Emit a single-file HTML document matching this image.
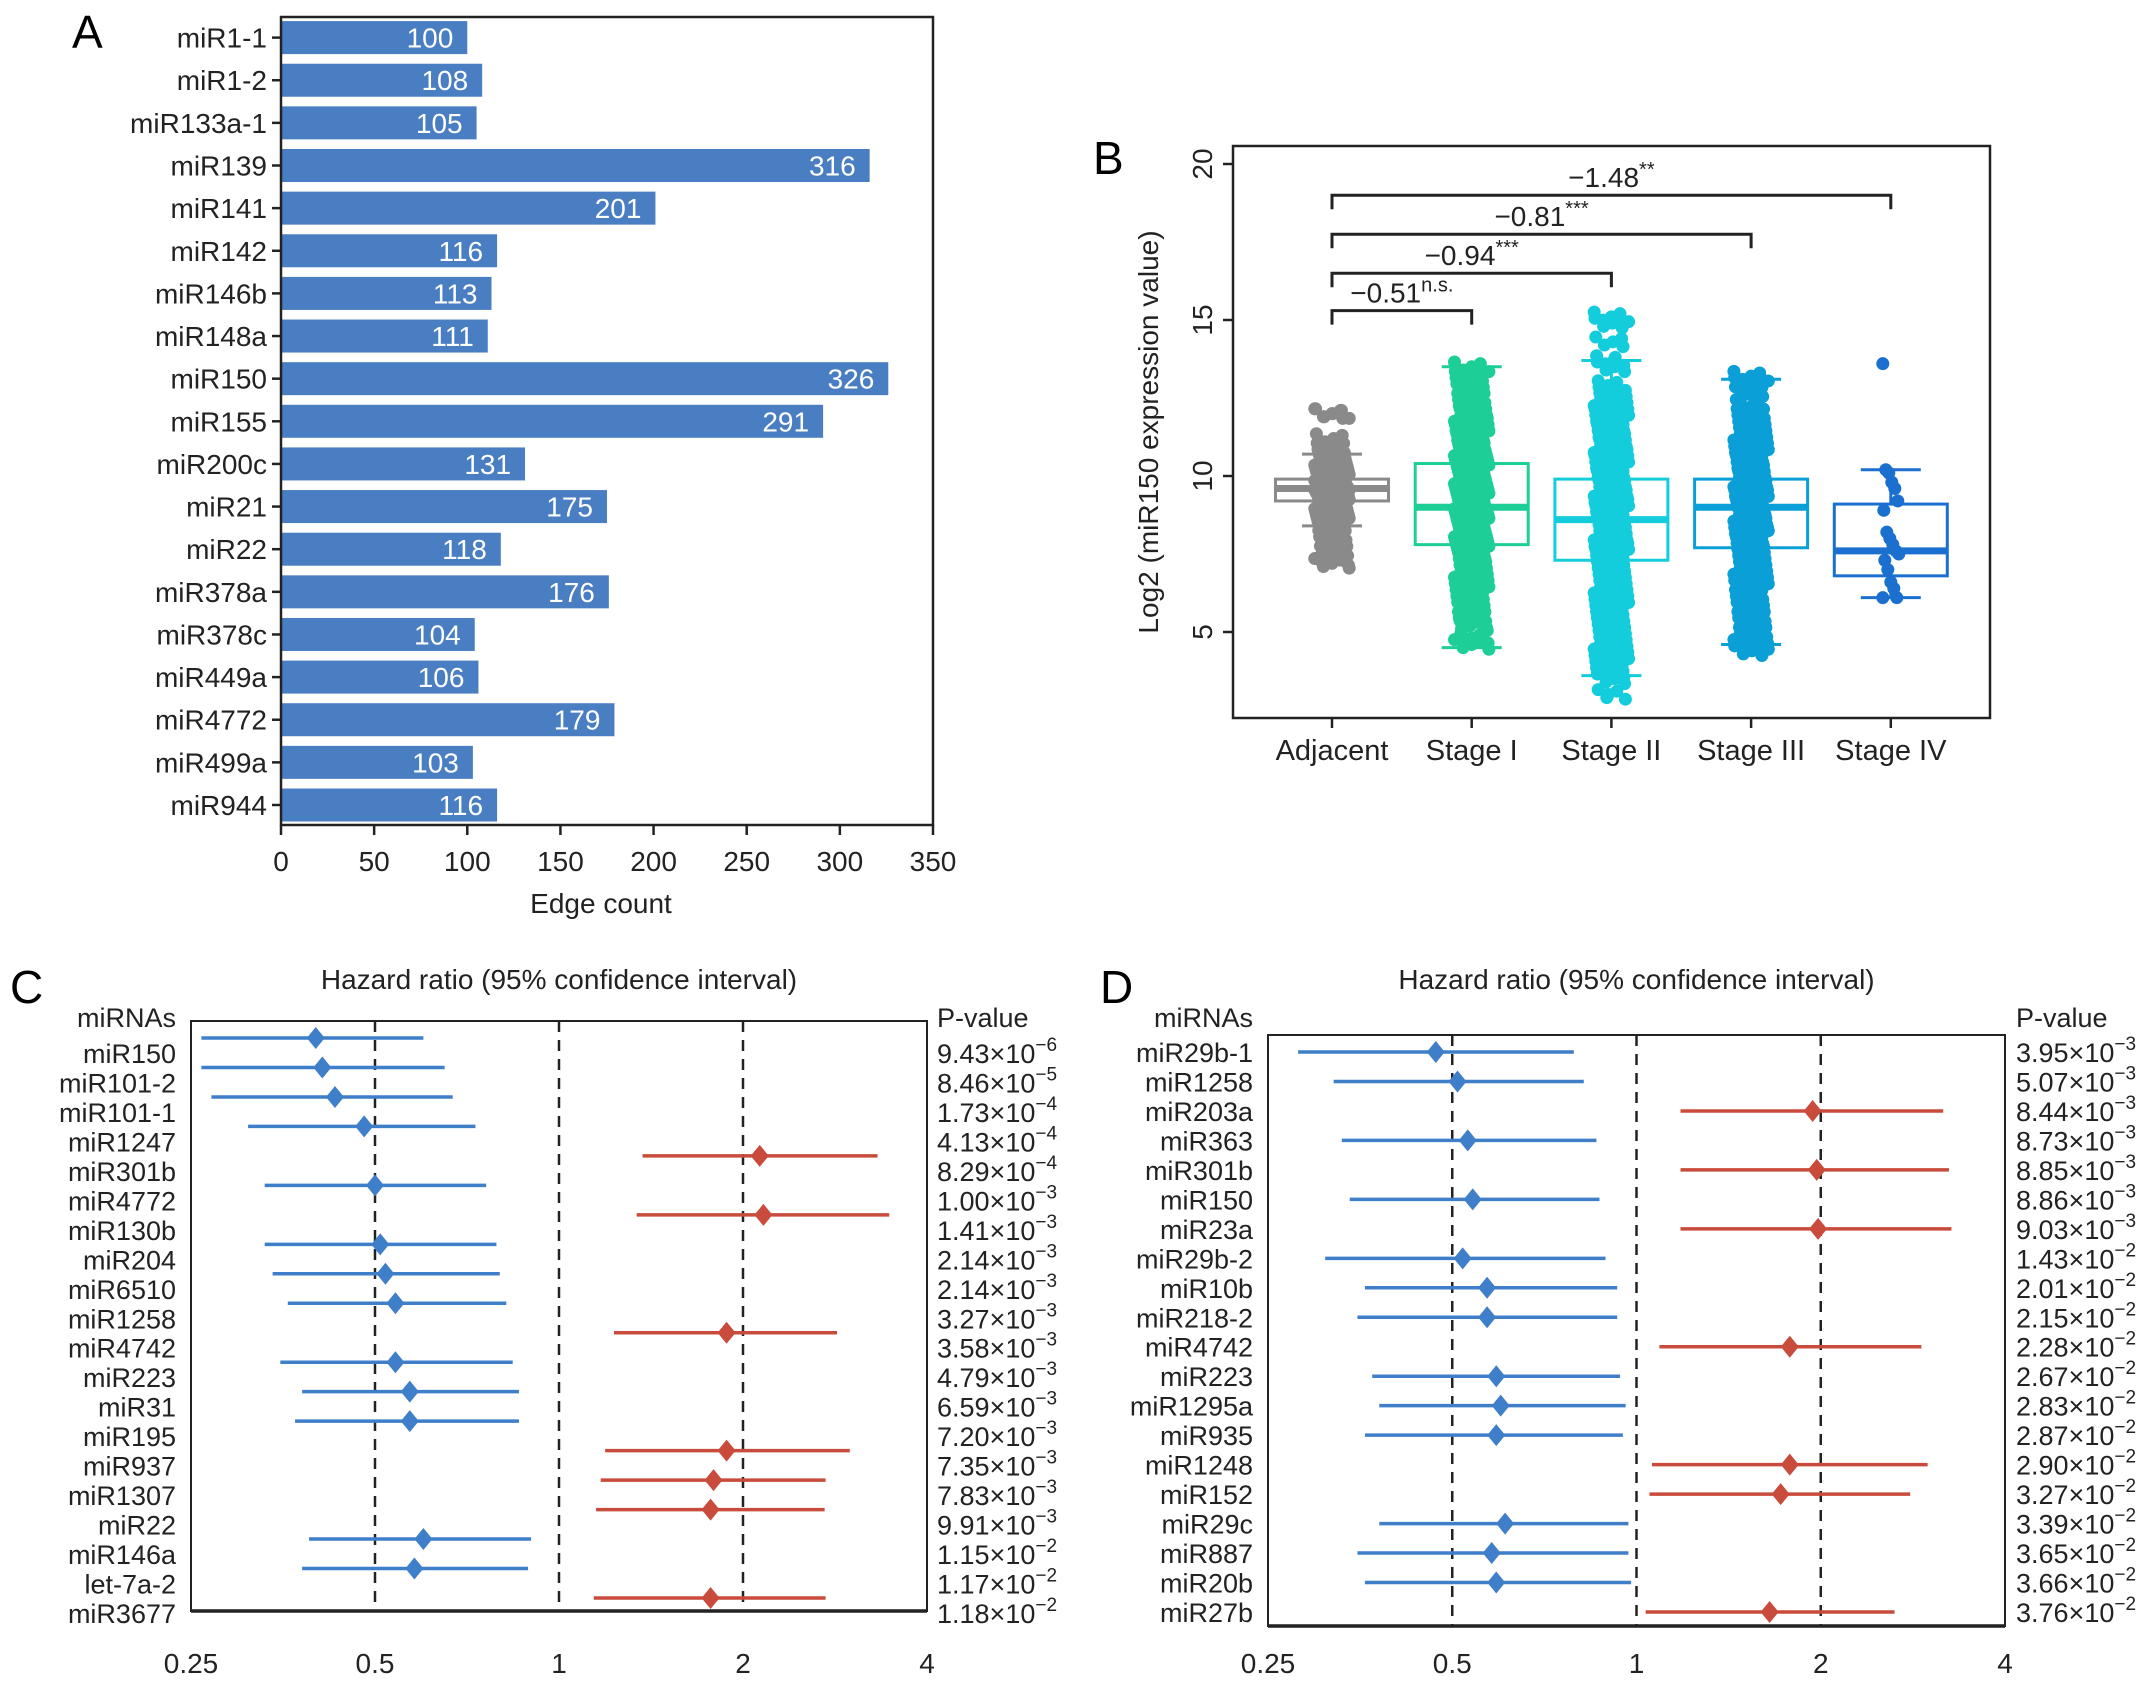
<!DOCTYPE html>
<html><head><meta charset="utf-8"><style>
html,body{margin:0;padding:0;background:#fff;}
svg{display:block;font-family:"Liberation Sans",Arial,sans-serif;}
</style></head><body>
<svg id="fig" width="2150" height="1683" viewBox="0 0 2150 1683">
<text x="72" y="48" font-size="46">A</text>
<text x="1093" y="174" font-size="46">B</text>
<text x="10" y="1003" font-size="46">C</text>
<text x="1100" y="1003" font-size="46">D</text>
<g id="pa"></g>
<g id="pb"></g>
<g id="pc"></g>
<g id="pd"></g>
</svg>
<script>
// ---- Panel A data ----
const aCategories=["miR1-1","miR1-2","miR133a-1","miR139","miR141","miR142","miR146b","miR148a","miR150","miR155","miR200c","miR21","miR22","miR378a","miR378c","miR449a","miR4772","miR499a","miR944"];
const aValues=[100,108,105,316,201,116,113,111,326,291,131,175,118,176,104,106,179,103,116];
const aTicks=[0,50,100,150,200,250,300,350];

// ---- Panel B data ----
const bCategories=["Adjacent","Stage I","Stage II","Stage III","Stage IV"];
const bQ1=[9.2,7.8,7.3,7.7,6.8];
const bMedian=[9.6,9.0,8.6,9.0,7.6];
const bQ3=[9.9,10.4,9.9,9.9,9.1];
const bWhiskLo=[8.4,4.5,3.6,4.6,6.1];
const bWhiskHi=[10.7,13.5,13.7,13.1,10.2];
const bTicks=[5,10,15,20];
const bPointsAdjacent=[12.0,12.0,11.2,10.9,10.7,10.6,10.5,10.4,10.3,10.2,10.1,10.0,10.0,9.9,9.9,9.8,9.8,9.7,9.7,9.7,9.6,9.6,9.6,9.6,9.5,9.5,9.5,9.4,9.4,9.3,9.3,9.2,9.2,9.1,9.0,8.9,8.8,8.7,8.6,8.5,8.4,8.1,7.9,7.6,7.3,7.2];
const bPointsStage1=[13.5,13.2,13.0,12.8,12.5,12.3,12.1,12.0,11.8,11.6,11.5,11.3,11.2,11.0,10.9,10.8,10.7,10.6,10.5,10.4,10.3,10.2,10.1,10.0,9.9,9.8,9.7,9.6,9.5,9.4,9.3,9.2,9.1,9.0,9.0,8.9,8.8,8.7,8.6,8.5,8.4,8.3,8.2,8.1,8.0,7.9,7.8,7.7,7.6,7.5,7.4,7.2,7.0,6.8,6.6,6.4,6.2,6.0,5.8,5.5,5.3,5.2,4.8,4.6];
const bPointsStage2=[15.1,14.9,14.3,13.7,13.5,12.9,12.7,12.5,12.3,12.1,12.0,11.8,11.6,11.5,11.3,11.1,11.0,10.8,10.6,10.5,10.3,10.1,10.0,9.8,9.7,9.5,9.4,9.2,9.0,8.9,8.7,8.6,8.5,8.3,8.1,8.0,7.8,7.6,7.5,7.3,7.1,6.9,6.7,6.5,6.3,6.1,5.9,5.7,5.5,5.3,5.1,4.9,4.7,4.5,4.3,4.1,3.9,3.7,3.5,3.0];
const bPointsStage3=[13.2,13.0,12.7,12.3,12.0,11.8,11.6,11.4,11.2,11.0,10.8,10.6,10.5,10.3,10.1,10.0,9.8,9.7,9.5,9.4,9.2,9.1,9.0,8.9,8.8,8.6,8.5,8.4,8.2,8.0,7.9,7.7,7.5,7.3,7.1,6.9,6.7,6.5,6.2,6.0,5.8,5.5,5.3,5.0,4.8,4.6,4.4];
const bPointsStage4=[13.6,10.2,10.1,9.8,9.6,9.2,8.9,8.2,8.0,7.8,7.6,7.5,7.3,7.0,6.6,6.4,6.1,6.1];
const bCompLabels=["\u22120.51","\u22120.94","\u22120.81","\u22121.48"];
const bCompSig=["n.s.","***","***","**"];
const bCompTarget=[1,2,3,4];
const bCompLevel=[15.3,16.5,17.75,19.0];

// ---- Panel C data ----
const cNames=["miR150","miR101-2","miR101-1","miR1247","miR301b","miR4772","miR130b","miR204","miR6510","miR1258","miR4742","miR223","miR31","miR195","miR937","miR1307","miR22","miR146a","let-7a-2","miR3677"];
const cHR=[0.40,0.41,0.43,0.48,2.13,0.50,2.16,0.51,0.52,0.54,1.88,0.54,0.57,0.57,1.88,1.79,1.77,0.60,0.58,1.77];
const cLo=[0.26,0.26,0.27,0.31,1.37,0.33,1.34,0.33,0.34,0.36,1.23,0.35,0.38,0.37,1.19,1.17,1.15,0.39,0.38,1.14];
const cHi=[0.60,0.65,0.67,0.73,3.32,0.76,3.47,0.79,0.80,0.82,2.85,0.84,0.86,0.86,2.99,2.73,2.72,0.90,0.89,2.73];
const cPMant=["9.43","8.46","1.73","4.13","8.29","1.00","1.41","2.14","2.14","3.27","3.58","4.79","6.59","7.20","7.35","7.83","9.91","1.15","1.17","1.18"];
const cPExp=["\u22126","\u22125","\u22124","\u22124","\u22124","\u22123","\u22123","\u22123","\u22123","\u22123","\u22123","\u22123","\u22123","\u22123","\u22123","\u22123","\u22123","\u22122","\u22122","\u22122"];

// ---- Panel D data ----
const dNames=["miR29b-1","miR1258","miR203a","miR363","miR301b","miR150","miR23a","miR29b-2","miR10b","miR218-2","miR4742","miR223","miR1295a","miR935","miR1248","miR152","miR29c","miR887","miR20b","miR27b"];
const dHR=[0.47,0.51,1.94,0.53,1.97,0.54,1.98,0.52,0.57,0.57,1.78,0.59,0.60,0.59,1.78,1.72,0.61,0.58,0.59,1.65];
const dLo=[0.28,0.32,1.18,0.33,1.18,0.34,1.18,0.31,0.36,0.35,1.09,0.37,0.38,0.36,1.06,1.05,0.38,0.35,0.36,1.035];
const dHi=[0.79,0.82,3.17,0.86,3.24,0.87,3.27,0.89,0.93,0.93,2.92,0.94,0.96,0.95,2.99,2.80,0.97,0.97,0.98,2.64];
const dPMant=["3.95","5.07","8.44","8.73","8.85","8.86","9.03","1.43","2.01","2.15","2.28","2.67","2.83","2.87","2.90","3.27","3.39","3.65","3.66","3.76"];
const dPExp=["\u22123","\u22123","\u22123","\u22123","\u22123","\u22123","\u22123","\u22122","\u22122","\u22122","\u22122","\u22122","\u22122","\u22122","\u22122","\u22122","\u22122","\u22122","\u22122","\u22122"];
const forestTicks=[0.25,0.5,1,2,4];
const forestTickLabels=["0.25","0.5","1","2","4"];
const forestRefLines=[0.5,1,2];

const NS="http://www.w3.org/2000/svg";
function mk(parent,tag,attrs,text){const e=document.createElementNS(NS,tag);for(const k in attrs)e.setAttribute(k,attrs[k]);if(text!==undefined)e.textContent=text;parent.appendChild(e);return e;}

// ===== Panel A =====
(function(){
  const g=document.getElementById('pa');
  const L=281,R=933,T=17,B=825;
  const x=v=>L+(v-0)/(350-0)*(R-L);
  const y0=37.6,step=(805-37.6)/(aCategories.length-1);
  const y=i=>y0+i*step;
  const bh=33;
  aCategories.forEach((c,i)=>{
    const r=mk(g,'rect',{x:L+1,y:y(i)-bh/2,width:x(aValues[i])-L-1,height:bh,fill:'#4a7ec2'});
    
    
    const t=mk(g,'text',{x:x(aValues[i])-14,y:y(i)+10,'font-size':28,fill:'#fff','text-anchor':'end'},String(aValues[i]));
    
    
    const tk=mk(g,'line',{x1:L-9,x2:L,y1:y(i),y2:y(i),stroke:'#222','stroke-width':2.5});
    
    
    const lb=mk(g,'text',{x:L-14,y:y(i)+10,'font-size':28,fill:'#222','text-anchor':'end'},c);
    
    
  });
  const fr=mk(g,'rect',{x:L,y:T,width:R-L,height:B-T,fill:'none',stroke:'#222','stroke-width':2.5});
  
  
  aTicks.forEach(v=>{
    const tk=mk(g,'line',{x1:x(v),x2:x(v),y1:B,y2:B+10,stroke:'#222','stroke-width':2.5});
    
    
    const tl=mk(g,'text',{x:x(v),y:B+46,'font-size':28,fill:'#222','text-anchor':'middle'},String(v));
    
    
  });
  const xt=mk(g,'text',{x:(L+R)/2-6,y:913,'font-size':28,fill:'#222','text-anchor':'middle'},'Edge count');
  
  
})();

// ===== Panel B =====
(function(){
  const g=document.getElementById('pb');
  const L=1233,R=1990,T=146,B=718;
  const y=v=>632-(v-5)*31.2;
  const cx=i=>1332+i*139.7;
  const colors=['#8a8a8a','#1dcf96','#14cddc','#0a9fd6','#1b6fcf'];
  const pts=[bPointsAdjacent,bPointsStage1,bPointsStage2,bPointsStage3,bPointsStage4];
  const bw=113,cap=60;
  bCategories.forEach((c,i)=>{
    const col=colors[i];
    const grp=mk(g,'g',{});
    
    
    mk(grp,'rect',{x:cx(i)-bw/2,y:y(bQ3[i]),width:bw,height:y(bQ1[i])-y(bQ3[i]),fill:'#fff',stroke:col,'stroke-width':3});
    mk(grp,'line',{x1:cx(i),x2:cx(i),y1:y(bQ3[i]),y2:y(bWhiskHi[i]),stroke:col,'stroke-width':3});
    mk(grp,'line',{x1:cx(i),x2:cx(i),y1:y(bQ1[i]),y2:y(bWhiskLo[i]),stroke:col,'stroke-width':3});
    mk(grp,'line',{x1:cx(i)-cap/2,x2:cx(i)+cap/2,y1:y(bWhiskHi[i]),y2:y(bWhiskHi[i]),stroke:col,'stroke-width':3});
    mk(grp,'line',{x1:cx(i)-cap/2,x2:cx(i)+cap/2,y1:y(bWhiskLo[i]),y2:y(bWhiskLo[i]),stroke:col,'stroke-width':3});
    const dense=pts[i].length>30;
    const offs=dense?[-14,-7,0,7,14]:[0];
    pts[i].forEach((v,k)=>{
      offs.forEach((o,m)=>{
        const jit=dense?(((k*37+m*11)%9)-4)*0.8:(((k*37)%17)-8)/8*8;
        const dy=dense?(((k*7+m*5)%7)-3)*1.6:0;
        const p=mk(grp,'circle',{cx:cx(i)+o+jit,cy:y(v)+dy,r:6.5,fill:col});
        
        
      });
    });
    mk(grp,'line',{x1:cx(i)-bw/2,x2:cx(i)+bw/2,y1:y(bMedian[i]),y2:y(bMedian[i]),stroke:col,'stroke-width':7});
    const xl=mk(g,'text',{x:cx(i),y:760,'font-size':29,fill:'#222','text-anchor':'middle'},c);
    
    
    const xt=mk(g,'line',{x1:cx(i),x2:cx(i),y1:B,y2:B+10,stroke:'#222','stroke-width':2.5});
    
    
  });
  const fr=mk(g,'rect',{x:L,y:T,width:R-L,height:B-T,fill:'none',stroke:'#222','stroke-width':2.5});
  
  
  bTicks.forEach(v=>{
    const tk=mk(g,'line',{x1:L-10,x2:L,y1:y(v),y2:y(v),stroke:'#222','stroke-width':2.5});
    
    
    const tl=mk(g,'text',{x:1212,y:y(v),'font-size':28,fill:'#222','text-anchor':'middle',transform:`rotate(-90 1212 ${y(v)})`},String(v));
    
    
  });
  const yt=mk(g,'text',{x:1158,y:432,'font-size':28,fill:'#222','text-anchor':'middle',transform:'rotate(-90 1158 432)'},'Log2 (miR150 expression value)');
  
  
  bCompTarget.forEach((t,k)=>{
    const yy=y(bCompLevel[k]);
    const br=mk(g,'path',{d:`M${cx(0)},${yy+14} V${yy} H${cx(t)} V${yy+14}`,fill:'none',stroke:'#222','stroke-width':3});
    
    
    const mid=(cx(0)+cx(t))/2;
    const tx=mk(g,'text',{x:mid,y:yy-8,'font-size':28,fill:'#222','text-anchor':'middle'});
    
    
    mk(tx,'tspan',{},bCompLabels[k]);
    mk(tx,'tspan',{dy:-11,'font-size':20},bCompSig[k]);
  });
})();

// ===== Forest plots =====
function forest(gid,L,R,T,B,y0,y1,labelRight,pLeft,labelOff,names,hr,lo,hi,pm,pe){
  const g=document.getElementById(gid);
  const x=v=>L+Math.log2(v/0.25)/4*(R-L);
  const step=(y1-y0)/(names.length-1);
  const y=i=>y0+i*step;
  const ttl=mk(g,'text',{x:(L+R)/2,y:989,'font-size':28,fill:'#222','text-anchor':'middle'},'Hazard ratio (95% confidence interval)');
  
  
  const mh=mk(g,'text',{x:labelRight,y:1027,'font-size':27,fill:'#222','text-anchor':'end'},'miRNAs');
  
  
  const ph=mk(g,'text',{x:pLeft,y:1027,'font-size':27,fill:'#222'},'P-value');
  
  
  forestRefLines.forEach(v=>{
    const l=mk(g,'line',{x1:x(v),x2:x(v),y1:T,y2:B,stroke:'#222','stroke-width':2.5,'stroke-dasharray':'11,8'});
    
    
  });
  names.forEach((n,i)=>{
    const col=hr[i]<1?'#3f7ec8':'#c94b3b';
    const ln=mk(g,'line',{x1:x(lo[i]),x2:x(hi[i]),y1:y(i),y2:y(i),stroke:col,'stroke-width':3.5});
    
    
    const cxv=x(hr[i]),cy=y(i);
    const d=mk(g,'polygon',{points:`${cxv},${cy-11} ${cxv+9},${cy} ${cxv},${cy+11} ${cxv-9},${cy}`,fill:col});
    
    
    const lb=mk(g,'text',{x:labelRight,y:cy+labelOff+10,'font-size':27,fill:'#222','text-anchor':'end'},n);
    
    
    const pv=mk(g,'text',{x:pLeft,y:cy+labelOff+10,'font-size':27,fill:'#222'});
    
    
    mk(pv,'tspan',{},pm[i]+'\u00d710');
    mk(pv,'tspan',{dy:-12,'font-size':19},pe[i]);
  });
  const fr=mk(g,'rect',{x:L,y:T,width:R-L,height:B-T,fill:'none',stroke:'#222','stroke-width':2});
  
  
  mk(g,'line',{x1:L,x2:R,y1:B,y2:B,stroke:'#222','stroke-width':3.5});
  forestTicks.forEach((v,k)=>{
    const tl=mk(g,'text',{x:x(v),y:1673,'font-size':28,fill:'#222','text-anchor':'middle'},forestTickLabels[k]);
    
    
  });
}
forest('pc',191,927,1021,1611,1038,1598,176,937,15,cNames,cHR,cLo,cHi,cPMant,cPExp);
forest('pd',1268,2005,1035,1626,1052,1612,1253,2016,0,dNames,dHR,dLo,dHi,dPMant,dPExp);
</script>
</body></html>
